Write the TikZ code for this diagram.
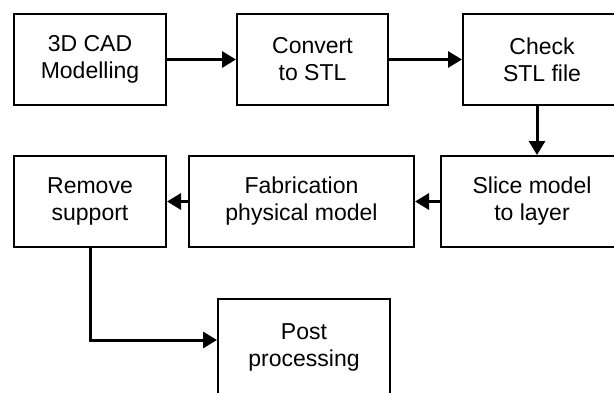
\documentclass[tikz,border=0pt]{standalone}
\usepackage{fontspec}
\setmainfont{Liberation Sans}
\usetikzlibrary{arrows.meta}

\begin{document}
\begin{tikzpicture}[x=1pt, y=-1pt,
    stepbox/.style={draw, line width=2pt, inner sep=0pt, minimum height=91pt,
      align=center, font=\fontsize{23}{27}\selectfont},
    flow/.style={line width=3pt, -{Triangle[length=14pt,width=16pt]}}]
  \useasboundingbox (0,0) rectangle (614,392);
  % first row
  \node[stepbox, minimum width=152pt] (cad) at (90,59.5) {3D CAD\\Modelling};
  \node[stepbox, minimum width=151pt] (stl) at (312.5,59.5) {Convert\\to STL};
  \node[stepbox, minimum width=158pt] (check) at (542,59.5) {Check\\STL file};
  % second row
  \node[stepbox, minimum width=182pt] (slice) at (532,201.5) {Slice model\\to layer};
  \node[stepbox, minimum width=225pt] (fab) at (301.5,201.5) {Fabrication\\physical model};
  \node[stepbox, minimum width=152pt] (remove) at (90,201.5) {Remove\\support};
  % last step
  \node[stepbox, minimum width=172pt, minimum height=96pt] (post) at (304,347) {Post\\processing};
  % connectors
  \draw[flow] (cad) -- (stl);
  \draw[flow] (stl) -- (check);
  \draw[flow] ([xshift=-5pt]check.south) -- ([xshift=5pt]slice.north);
  \draw[flow] (slice) -- (fab);
  \draw[flow] (fab) -- (remove);
  \draw[flow] (remove.south) |- ([yshift=7pt]post.west);
\end{tikzpicture}
\end{document}
